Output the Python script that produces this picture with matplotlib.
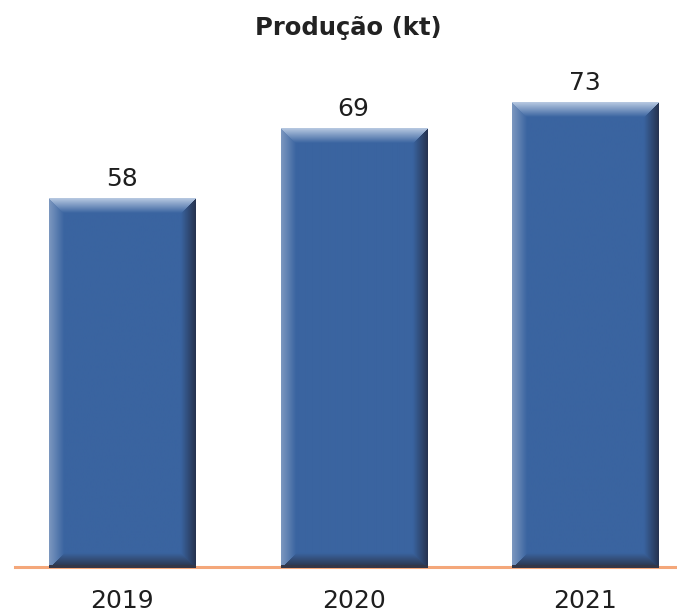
import numpy as np
import matplotlib
matplotlib.use("Agg")
from matplotlib import pyplot as plt

years = ["2019", "2020", "2021"]
values = [58, 69, 73]
title = "Produção (kt)"

bar_width = 0.632
base = np.array([58, 100, 160]) / 255.0
light_top = np.array([185, 202, 226]) / 255.0
light_left = np.array([125, 152, 192]) / 255.0
dark_right = np.array([38, 50, 78]) / 255.0
dark_bottom = np.array([42, 48, 66]) / 255.0


def bevel_image(nx, ny, b=15):
    # mitered bevel: each pixel takes the shade of its nearest edge
    xx, yy = np.meshgrid(np.arange(nx) + 0.5, np.arange(ny) + 0.5)
    d = np.stack([yy, xx, nx - xx, ny - yy])  # top, left, right, bottom
    edge = np.argmin(d, axis=0)
    dist = np.min(d, axis=0)
    t = np.clip(1 - dist / b, 0, 1)
    img = np.tile(base, (ny, nx, 1))
    for k, col in enumerate([light_top, light_left, dark_right, dark_bottom]):
        m = edge == k
        img[m] = base * (1 - t[m, None]) + col * t[m, None]
    img[-3:, :] = np.array([52, 55, 72]) / 255.0
    return img


fig = plt.figure(figsize=(6.77, 6.14), dpi=100)
ax = fig.add_axes([15 / 677, 46 / 614, 662 / 677, 568 / 614])
ax.set_xlim(-0.464, 2.398)
ax.set_ylim(0, 568 / 6.37)
ax.axis("off")

x = np.arange(len(years))
bars = ax.bar(x, values, width=bar_width, color=base, zorder=2)
for rect, v in zip(bars, values):
    x0 = rect.get_x()
    x1 = x0 + rect.get_width()
    ny = int(round(v * 6.37))
    img = bevel_image(146, ny)
    ax.imshow(img, extent=(x0, x1, 0, v), aspect="auto", zorder=3,
              interpolation="bilinear")
    ax.annotate(str(v), (rect.get_x() + rect.get_width() / 2, v),
                xytext=(0, 9), textcoords="offset points",
                ha="center", va="baseline", fontsize=18, color="#1e1e1e")

ax.axhline(0.2, color="#F4A77A", lw=2.2, zorder=1, clip_on=False)

for xi, yr in zip(x, years):
    ax.annotate(yr, (xi, 0), xytext=(0, -29), textcoords="offset points",
                ha="center", va="baseline", fontsize=18, color="#1e1e1e")

fig.text(348 / 677, 1 - 28 / 614, title, ha="center", va="center",
         fontsize=17.5, fontweight="bold", color="#222222")

fig.savefig("out.png", dpi=100)
